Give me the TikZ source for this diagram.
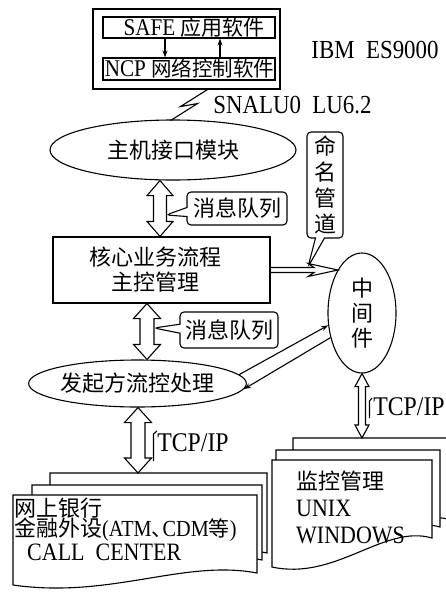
\documentclass[tikz,border=0pt]{standalone}
\usepackage{fontspec}
\setmainfont[FakeStretch=0.88]{Liberation Serif}
\newfontfamily\cjk{Noto Sans CJK SC}
\usetikzlibrary{shapes.geometric,shapes.callouts,calc,arrows.meta}
\newcommand\fsz[1]{\fontsize{#1}{#1}\selectfont}
\newcommand\zhs[2]{{\cjk\fontsize{#1}{#1}\selectfont #2}}
% vertical hollow double arrow: top, bottom, shaft half, head half, head length
\newcommand\vdbl[5]{%
  \draw[ln] let \p1=#1, \p2=#2 in
    (\x1,\y1) -- (\x1+#4pt,\y1-#5pt) -- (\x1+#3pt,\y1-#5pt) -- (\x1+#3pt,\y2+#5pt)
    -- (\x1+#4pt,\y2+#5pt) -- (\x1,\y2) -- (\x1-#4pt,\y2+#5pt) -- (\x1-#3pt,\y2+#5pt)
    -- (\x1-#3pt,\y1-#5pt) -- (\x1-#4pt,\y1-#5pt) -- cycle;}
% document shape: x1, top, x2, right bottom, left bottom
\newcommand\docpath[5]{%
  \pgfmathsetmacro\dw{#3-#1}%
  \filldraw[ln, fill=white] (#1,#2) -- (#3,#2) -- (#3,#4)
    .. controls ({#3-0.3*\dw},{#4-14}) and ({#1+0.4*\dw},{#5+14}) .. (#1,#5) -- cycle;}
\begin{document}
\begin{tikzpicture}[x=1pt,y=-1pt,
  ln/.style={line width=1.1pt},
  bx/.style={draw, line width=1.1pt, inner sep=0pt, rectangle},
  el/.style={draw, line width=1.1pt, ellipse, inner sep=0pt},
  co/.style={draw, line width=1.1pt, rectangle callout, rounded corners=4pt, inner sep=0pt, callout pointer width=9pt},
  tx/.style={inner sep=0pt},
  tip/.style={-{Stealth[length=7pt,width=5pt]}},
]
\useasboundingbox (0,0) rectangle (445,592);

% IBM host
\node[bx, minimum width=187pt, minimum height=80pt] (ibm) at (186.5,49) {};
\node[bx, minimum width=172pt, minimum height=21pt] (safe) at (189,27.5) {};
\node[tx] (safet) at (194,27.5) {\fsz{24}SAFE \zhs{21}{应用软件}};
\node[bx, minimum width=172pt, minimum height=22pt] (ncp) at (189,69) {};
\node[tx] (ncpt) at (189.5,69) {\fsz{24}NCP \zhs{20.5}{网络控制软件}};
\coordinate (dnx) at (165,0);
\coordinate (upx) at (220,0);
\draw[ln,tip] (safe.south -| dnx) -- (ncp.north -| dnx);
\draw[ln,tip] (ncp.north -| upx) -- (safe.south -| upx);
\node[tx] (ibmt) at (375,50) {\fsz{26}IBM\ \ ES9000};

% lightning link
\draw[ln] (ibm.south) ++(21,0) coordinate (lt) -- ++(-27,17) -- ++(17,-3) -- ++(-27,17) coordinate (lb);
\node[tx] (sna) at (292.5,105) {\fsz{26}SNALU0\ \ LU6.2};

% main nodes
\node[el, minimum width=246pt, minimum height=60pt, font=\cjk\fsz{22}] (host) at (173,150) {主机接口模块};
\node[bx, minimum width=217pt, minimum height=66pt] (core) at (161.5,270) {};
\node[tx, font=\cjk\fontsize{22}{25}\selectfont, align=center] (coret) at (155,270) {核心业务流程\\主控管理};
\node[el, minimum width=68pt, minimum height=120pt, font=\cjk\fontsize{22}{25}\selectfont, align=center] (mw) at (362,313) {中\\间\\件};
\node[el, minimum width=201pt, minimum height=47pt, font=\cjk\fsz{22}] (init) at (137.5,383.5) {发起方流控处理};

% documents (back to front)
\docpath{50}{473}{267}{553}{565}
\docpath{32}{485}{262}{560}{574}
\docpath{13}{495}{257}{573}{585}
\docpath{293}{438}{452}{520}{545}
\docpath{276}{450}{440}{527}{555}
\docpath{272}{460}{432}{538}{567}
\coordinate (ldoc) at (138,473);
\coordinate (rdoc) at (362,438);

\node[tx, anchor=west, font=\cjk\fsz{22}] (d1) at (14,508) {网上银行};
\node[tx, anchor=west] (d2) at (14,530) {\zhs{22}{金融外设}\fsz{23}(ATM\zhs{21}{、}\hspace{-10pt}CDM\zhs{21}{等})};
\node[tx, anchor=west] (d3) at (27,552) {\fsz{25}CALL\ \ CENTER};
\node[tx, anchor=west, font=\cjk\fsz{22}] (m1) at (296,481) {监控管理};
\node[tx, anchor=west] (m2) at (296,508) {\fsz{25}UNIX};
\node[tx, anchor=west] (m3) at (296,535) {\fsz{25}WINDOWS};

% hollow double arrows
\coordinate (a1) at (160,0);
\coordinate (a2) at (147,0);
\coordinate (a3) at (138,0);
\vdbl{(host.south -| a1)}{(core.north -| a1)}{6.5}{13}{15}
\vdbl{(core.south -| a2)}{(init.north -| a2)}{7}{13.5}{15}
\vdbl{(init.south -| a3)}{(ldoc)}{7}{13.5}{15}
\vdbl{(mw.south)}{(rdoc)}{3.5}{7}{13}

% hollow pipe arrow core -> middleware
\coordinate (mwtip) at (338,270);
\draw[ln] let \p1=(core.east), \p2=(mwtip) in
  (\x1,\y1+2.5pt) -- (\x2-24pt,\y1+2.5pt) -- (\x2-30pt,\y1+6.5pt) -- (\x2,\y1)
  -- (\x2-30pt,\y1-6.5pt) -- (\x2-24pt,\y1-2.5pt) -- (\x1,\y1-2.5pt);

% thin arrows
\draw[ln,tip] (init.5) -- (mw.200);
\draw[ln,tip] (mw.218) -- (init.-3);

% callouts
\coordinate (p1) at (166,215);
\coordinate (p2) at (154,328);
\coordinate (p3) at (308,267);
\node[co, minimum width=100pt, minimum height=33pt, callout absolute pointer={(p1)}, font=\cjk\fsz{22}] (q1) at (237,208.5) {消息队列};
\node[co, minimum width=98pt, minimum height=36pt, callout absolute pointer={(p2)}, font=\cjk\fsz{22}] (q2) at (229,330) {消息队列};
\node[co, minimum width=36pt, minimum height=106pt, callout absolute pointer={(p3)}, font=\cjk\fontsize{22}{26}\selectfont, align=center] (pipe) at (325,185) {命\\名\\管\\道};

% TCP/IP labels
\node[tx] (tcp1) at (193,443) {\fsz{27}TCP/IP};
\draw[ln] (157,431) -- (153.5,434) -- (153.5,461);
\node[tx] (tcp2) at (409,407) {\fsz{27}TCP/IP};
\draw[ln] (372,398) -- (369.5,401) -- (369.5,418);
\end{tikzpicture}
\end{document}
